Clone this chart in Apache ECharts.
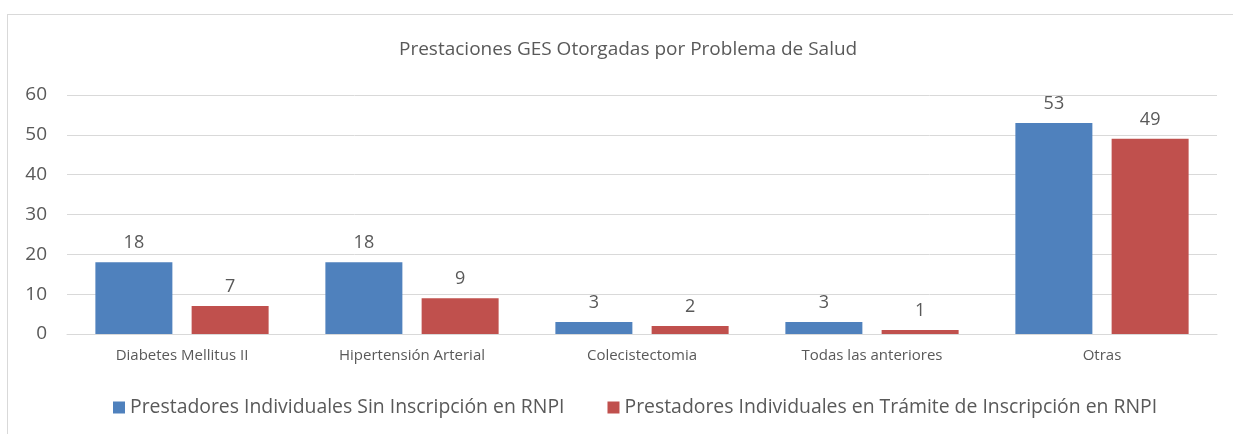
<!DOCTYPE html>
<html>
<head>
<meta charset="utf-8">
<script src="https://cdn.jsdelivr.net/npm/echarts@6/dist/echarts.min.js"></script>
<style>
  html, body { margin: 0; padding: 0; background: #fff; }
  #frame {
    position: absolute; left: 7px; top: 14px; width: 1240px; height: 440px;
    border: 1px solid #d9d9d9; box-sizing: border-box;
  }
  #chart { position: absolute; left: 0; top: 0; width: 1233px; height: 434px; }
</style>
</head>
<body>
<div id="frame"></div>
<div id="chart"></div>
<script>
  // datos del gráfico
  var categorias = ['Diabetes Mellitus II', 'Hipertensión Arterial', 'Colecistectomia', 'Todas las anteriores', 'Otras'];
  var sinInscripcion = [18, 18, 3, 3, 53];
  var enTramite = [7, 9, 2, 1, 49];
  var nombreSerie1 = 'Prestadores Individuales Sin Inscripción en RNPI';
  var nombreSerie2 = 'Prestadores Individuales en Trámite de Inscripción en RNPI';

  var fuente = '"Open Sans", "Liberation Sans", sans-serif';
  var gris = '#595959';

  var myChart = echarts.init(document.getElementById('chart'));

  var etiqueta = {
    show: true,
    position: 'top',
    distance: 10,
    color: gris,
    fontFamily: fuente,
    fontSize: 18
  };

  var option = {
    animation: false,
    title: {
      text: 'Prestaciones GES Otorgadas por Problema de Salud',
      left: 394,
      top: 35,
      textStyle: { color: gris, fontFamily: fuente, fontSize: 19, fontWeight: 'normal' }
    },
    legend: {
      data: [nombreSerie1, nombreSerie2],
      bottom: 12,
      left: 108,
      icon: 'rect',
      itemWidth: 12,
      itemHeight: 12,
      itemGap: 43,
      textStyle: { color: gris, fontFamily: fuente, fontSize: 19.4 }
    },
    grid: { left: 67, right: 16, top: 95, bottom: 100 },
    xAxis: {
      type: 'category',
      data: categorias,
      axisLine: { lineStyle: { color: '#d9d9d9', width: 1 } },
      axisTick: { show: false },
      axisLabel: { color: gris, fontFamily: fuente, fontSize: 15, margin: 14 }
    },
    yAxis: {
      type: 'value',
      min: 0,
      max: 60,
      interval: 10,
      axisLine: { show: false },
      axisTick: { show: false },
      splitLine: { lineStyle: { color: '#d9d9d9', width: 1 } },
      axisLabel: { color: gris, fontFamily: fuente, fontSize: 19, margin: 20 }
    },
    series: [
      {
        name: nombreSerie1,
        type: 'bar',
        data: sinInscripcion,
        barWidth: 77,
        barGap: '25%',
        itemStyle: { color: '#4F81BD' },
        label: etiqueta
      },
      {
        name: nombreSerie2,
        type: 'bar',
        data: enTramite,
        barWidth: 77,
        barGap: '25%',
        itemStyle: { color: '#C0504D' },
        label: etiqueta
      }
    ]
  };

  myChart.setOption(option);
  window.addEventListener('resize', function () { myChart.resize(); });
</script>
</body>
</html>
